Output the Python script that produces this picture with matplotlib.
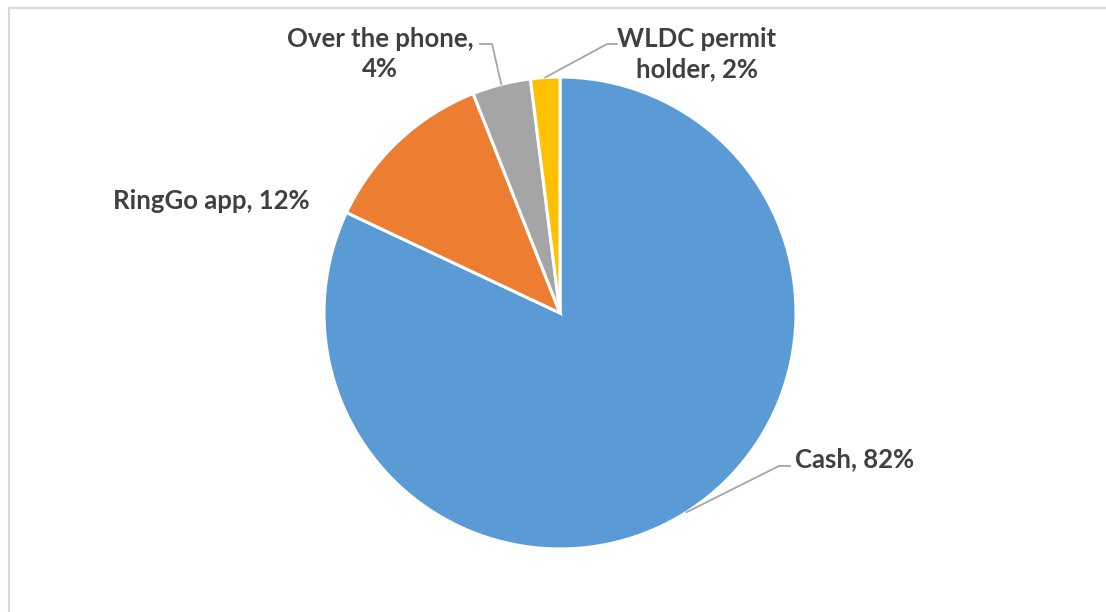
import matplotlib
matplotlib.use("Agg")
import matplotlib.pyplot as plt
import numpy as np


labels = ["Cash", "RingGo app", "Over the phone", "WLDC permit holder"]
shares = [82, 12, 4, 2]
colors = ["#5B9BD5", "#ED7D31", "#A5A5A5", "#FFC000"]

# label text as drawn, with line breaks
label_text = [
    f"Cash, {shares[0]}%",
    f"RingGo app, {shares[1]}%",
    f"Over the phone,\n{shares[2]}%",
    f"WLDC permit\nholder, {shares[3]}%",
]

W, H = 1106, 612
fig = plt.figure(figsize=(W / 100, H / 100), dpi=100)
fig.patch.set_facecolor("white")

# light chart frame
frame = plt.Rectangle((9 / W, -0.1), 1.2, (H - 8) / H + 0.1, transform=fig.transFigure,
                      fill=False, edgecolor="#D9D9D9", linewidth=1.5)
fig.add_artist(frame)

cx, cy, r = 560, 313, 236
ax = fig.add_axes([(cx - r) / W, (H - cy - r) / H, 2 * r / W, 2 * r / H])
ax.axis("off")

wedges, _ = ax.pie(shares, colors=colors, startangle=90, counterclock=False,
                   radius=1, wedgeprops=dict(edgecolor="white", linewidth=2.2))
# pie() pads the limits, so pin them to the unit circle afterwards
ax.set_xlim(-1, 1)
ax.set_ylim(-1, 1)
ax.set_aspect("equal")


def px(x, y):
    # pixel position -> data coords of the pie axes
    return (x - cx) / r, (cy - y) / r


font = dict(family="Lato", fontsize=18.5, fontweight="bold", color="#404040",
            linespacing=1.3)
leader = dict(color="#A6A6A6", linewidth=1.3)


def mid_point(w):
    ang = np.deg2rad((w.theta1 + w.theta2) / 2)
    return np.cos(ang), np.sin(ang)


# Cash
x0, y0 = mid_point(wedges[0])
(x1, y1), (x2, y2) = px(779, 466), px(790, 466)
ax.plot([x0, x1, x2], [y0, y1, y2], **leader)
ax.text(*px(795, 459), label_text[0], ha="left", va="center", **font)

# RingGo app
ax.text(*px(310, 201), label_text[1], ha="right", va="center", **font)

# Over the phone
x0, y0 = mid_point(wedges[2])
(x1, y1), (x2, y2) = px(492, 44), px(480, 44)
ax.plot([x0, x1, x2], [y0, y1, y2], clip_on=False, **leader)
ax.text(*px(380, 54), label_text[2], ha="center", va="center", clip_on=False, **font)

# WLDC permit holder
x0, y0 = mid_point(wedges[3])
(x1, y1), (x2, y2) = px(607, 44), px(617, 44)
ax.plot([x0, x1, x2], [y0, y1, y2], clip_on=False, **leader)
ax.text(*px(697, 54), label_text[3], ha="center", va="center", clip_on=False, **font)

fig.savefig("out.png", dpi=100, facecolor="white")
